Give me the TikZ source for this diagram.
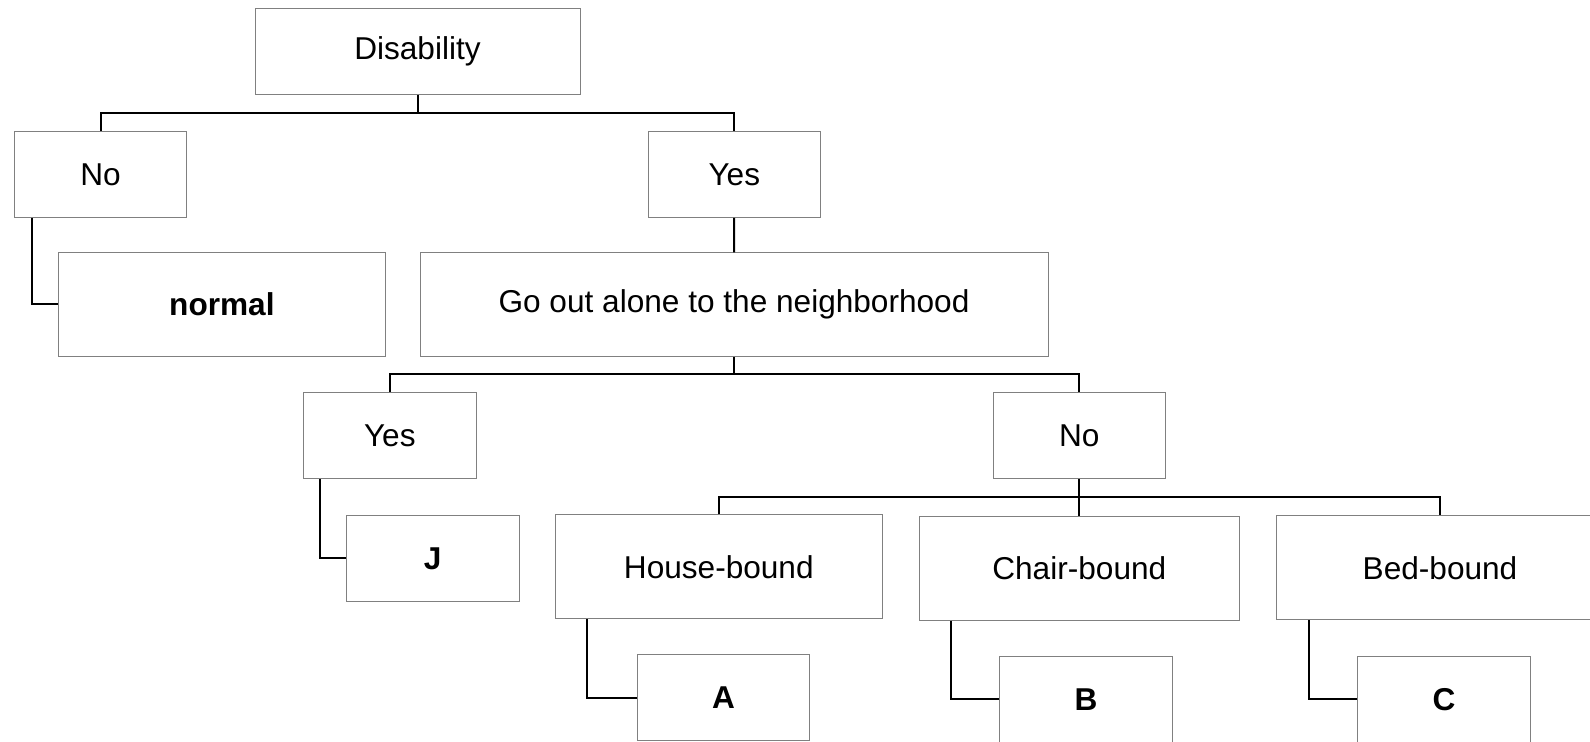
\documentclass[tikz,border=0pt]{standalone}
\usepackage{fontspec}
\setmainfont{Liberation Sans}
\usepackage{tikz}
\usetikzlibrary{calc}
\tikzset{%
  mybox/.style={rectangle, draw=black!50, line width=0.5pt, inner sep=0pt, font=\fontsize{15.8}{19}\selectfont},
  smallbox/.style={mybox, minimum width=86.3pt, minimum height=43pt},
  widebox/.style={mybox, minimum width=163.5pt, minimum height=52pt},
  myedge/.style={draw=black, line width=1pt}
}
\begin{document}
\begin{tikzpicture}[x=0.5pt, y=-0.5pt]
\useasboundingbox (0,0) rectangle (1590,742);

% question boxes
\node [smallbox, minimum width=162.5pt] (Dis) at (417.5,51.3) {Disability};
\node [smallbox] (No) at (100.5,174.3) {No};
\node [smallbox] (Yes) at (734.3,174.3) {Yes};
\node [widebox, minimum width=314pt] (Go) at (734,304.8) {Go out alone to the neighborhood};
\node [smallbox] (Yes2) at (389.8,435.8) {Yes};
\node [smallbox] (No2) at (1079.3,435.8) {No};
\node [widebox] (Hb) at (718.8,567) {House-bound};
\node [widebox, minimum width=160pt] (Cb) at (1079.3,568.3) {Chair-bound};
\node [widebox] (Bb) at (1440,568) {Bed-bound};

% result boxes
\node [widebox] (nrm) at (221.9,304.5) {\textbf{normal}};
\foreach \n/\x/\y in {J/432.7/558.3, A/723.6/697.7, B/1085.9/699.3, C/1444.1/699.3}{
  \node [smallbox] (\n) at (\x,\y) {\textbf{\n}};
}

% branch bars
\coordinate (b1) at (417.5,113.3);
\coordinate (b2) at (734,374);
\coordinate (b3) at (1079.3,496.7);

\draw [myedge] (Dis) -- (b1);
\draw [myedge] (No.north) |- (b1) -| (Yes.north);
\draw [myedge] (Yes) -- (Go);
\draw [myedge] (Go) -- (b2);
\draw [myedge] (Yes2.north) |- (b2) -| (No2.north);
\draw [myedge] (No2) -- (b3);
\draw [myedge] (Hb.north) |- (b3) -| (Bb.north);
\draw [myedge] (b3) -- (Cb.north);

% side links to results
\foreach \p/\c/\d in {No/nrm/9, Yes2/J/8.5, Hb/A/16.3, Cb/B/16, Bb/C/16.5}{
  \draw [myedge] ([xshift=\d pt]\p.south west) |- (\c.west);
}

\end{tikzpicture}
\end{document}
